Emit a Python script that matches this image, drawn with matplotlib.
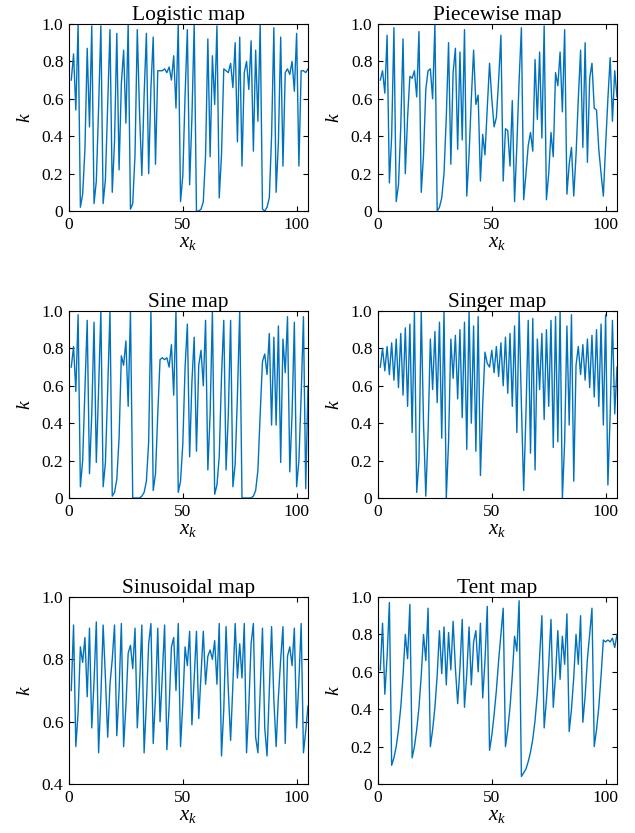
import numpy as np
import matplotlib
matplotlib.use("Agg")
import matplotlib.pyplot as plt

# values (one value per iteration, k = 1..105)
logistic = [
    0.70, 0.84, 0.54, 1.00, 0.02, 0.09, 0.33, 0.87, 0.45, 0.99,
    0.04, 0.16, 0.55, 0.99, 0.04, 0.17, 0.57, 0.97, 0.10, 0.37,
    0.95, 0.22, 0.68, 0.86, 0.47, 1.00, 0.01, 0.04, 0.30, 0.97,
    0.52, 0.19, 0.62, 0.95, 0.20, 0.66, 0.93, 0.25, 0.75, 0.75,
    0.75, 0.76, 0.74, 0.77, 0.70, 0.83, 0.55, 1.00, 0.05, 0.19,
    0.62, 0.97, 0.14, 0.50, 1.00, 0.00, 0.00, 0.01, 0.05, 0.30,
    0.92, 0.29, 0.83, 0.57, 0.99, 0.07, 0.30, 0.76, 0.75, 0.74,
    0.79, 0.66, 0.90, 0.37, 0.93, 0.24, 0.74, 0.80, 0.65, 0.91,
    0.32, 0.86, 0.48, 1.00, 0.01, 0.00, 0.02, 0.07, 0.40, 0.98,
    0.10, 0.37, 0.93, 0.24, 0.74, 0.76, 0.73, 0.80, 0.64, 0.95,
    0.24, 0.75, 0.75, 0.74, 0.76,
]
piecewise = [
    0.70, 0.75, 0.63, 0.94, 0.15, 0.40, 0.98, 0.05, 0.14, 0.45,
    0.92, 0.20, 0.50, 0.72, 0.71, 0.75, 0.61, 0.96, 0.10, 0.30,
    0.65, 0.75, 0.76, 0.60, 1.00, 0.00, 0.02, 0.07, 0.20, 0.50,
    0.90, 0.25, 0.74, 0.87, 0.33, 0.85, 0.38, 0.97, 0.08, 0.30,
    0.60, 0.86, 0.57, 0.62, 0.16, 0.41, 0.30, 0.55, 0.79, 0.60,
    0.45, 0.50, 0.70, 0.94, 0.16, 0.44, 0.43, 0.24, 0.59, 0.05,
    0.35, 0.70, 0.98, 0.06, 0.20, 0.35, 0.42, 0.32, 0.81, 0.49,
    0.85, 0.39, 0.99, 0.06, 0.20, 0.42, 0.29, 0.74, 0.67, 0.85,
    0.53, 0.97, 0.09, 0.25, 0.34, 0.08, 0.30, 0.60, 0.86, 0.34,
    0.90, 0.26, 0.71, 0.79, 0.55, 0.54, 0.33, 0.20, 0.08, 0.35,
    0.60, 0.82, 0.48, 0.75, 0.61,
]
sine = [
    0.70, 0.81, 0.57, 0.98, 0.06, 0.20, 0.58, 0.95, 0.13, 0.45,
    0.94, 0.19, 0.58, 1.00, 0.06, 0.19, 0.58, 1.00, 0.01, 0.03,
    0.10, 0.32, 0.76, 0.71, 0.84, 0.49, 1.00, 0.00, 0.00, 0.00,
    0.00, 0.01, 0.03, 0.09, 0.30, 1.00, 0.04, 0.13, 0.45, 0.74,
    0.75, 0.74, 0.75, 0.70, 0.82, 0.55, 1.00, 0.03, 0.09, 0.29,
    0.70, 0.93, 0.22, 0.62, 0.86, 0.25, 0.71, 0.79, 0.60, 0.95,
    0.15, 0.45, 1.00, 0.02, 0.07, 0.22, 0.65, 0.95, 0.15, 0.45,
    0.95, 0.06, 0.18, 0.55, 1.00, 0.00, 0.00, 0.00, 0.00, 0.00,
    0.01, 0.04, 0.15, 0.45, 0.73, 0.77, 0.66, 0.88, 0.39, 0.86,
    0.39, 0.92, 0.19, 0.85, 0.67, 0.97, 0.14, 0.45, 0.94, 0.06,
    0.20, 0.55, 0.97, 0.05, 0.60,
]
singer = [
    0.70, 0.80, 0.68, 0.81, 0.66, 0.83, 0.63, 0.85, 0.59, 0.88,
    0.55, 0.91, 0.49, 0.93, 0.35, 1.00, 0.03, 0.20, 1.00, 0.40,
    0.01, 0.35, 0.85, 0.58, 0.89, 0.51, 0.94, 0.32, 1.00, 0.00,
    0.30, 0.85, 0.64, 0.87, 0.53, 0.90, 0.43, 0.94, 0.26, 1.00,
    0.40, 0.92, 0.25, 0.97, 0.12, 0.50, 0.78, 0.72, 0.70, 0.79,
    0.67, 0.81, 0.65, 0.83, 0.60, 0.86, 0.56, 0.88, 0.49, 0.92,
    0.35, 1.00, 0.50, 0.04, 0.45, 0.95, 0.24, 0.96, 0.15, 0.85,
    0.58, 0.88, 0.42, 0.90, 0.49, 0.95, 0.27, 0.97, 0.30, 1.00,
    0.00, 0.30, 0.92, 0.39, 0.98, 0.09, 0.71, 0.81, 0.66, 0.82,
    0.63, 0.85, 0.59, 0.87, 0.54, 0.90, 0.49, 0.93, 0.39, 0.98,
    0.07, 0.45, 0.95, 0.45, 0.70,
]
sinusoidal = [
    0.70, 0.91, 0.52, 0.63, 0.84, 0.79, 0.87, 0.68, 0.90, 0.58,
    0.73, 0.92, 0.50, 0.68, 0.91, 0.74, 0.55, 0.72, 0.80, 0.91,
    0.555, 0.70, 0.915, 0.52, 0.65, 0.82, 0.845, 0.77, 0.90, 0.58,
    0.72, 0.91, 0.50, 0.66, 0.85, 0.915, 0.53, 0.68, 0.90, 0.60,
    0.75, 0.91, 0.51, 0.65, 0.84, 0.87, 0.70, 0.915, 0.52, 0.66,
    0.84, 0.78, 0.89, 0.59, 0.74, 0.89, 0.61, 0.75, 0.89, 0.72,
    0.81, 0.83, 0.80, 0.86, 0.72, 0.915, 0.49, 0.64, 0.905, 0.70,
    0.54, 0.72, 0.915, 0.74, 0.85, 0.74, 0.915, 0.50, 0.65, 0.85,
    0.915, 0.55, 0.50, 0.70, 0.90, 0.58, 0.49, 0.70, 0.905, 0.67,
    0.52, 0.68, 0.80, 0.905, 0.53, 0.81, 0.84, 0.78, 0.90, 0.58,
    0.73, 0.915, 0.50, 0.57, 0.65,
]
tent = [
    0.61, 0.86, 0.48, 0.68, 0.97, 0.10, 0.14, 0.20, 0.29, 0.41,
    0.58, 0.80, 0.67, 0.96, 0.14, 0.20, 0.29, 0.41, 0.58, 0.80,
    0.66, 0.94, 0.20, 0.29, 0.41, 0.58, 0.82, 0.59, 0.84, 0.53,
    0.81, 0.61, 0.87, 0.62, 0.43, 0.62, 0.88, 0.41, 0.59, 0.84,
    0.53, 0.76, 0.82, 0.60, 0.86, 0.46, 0.66, 0.95, 0.18, 0.26,
    0.37, 0.50, 0.66, 0.80, 0.94, 0.20, 0.29, 0.41, 0.58, 0.79,
    0.71, 0.98, 0.04, 0.06, 0.08, 0.12, 0.17, 0.24, 0.34, 0.48,
    0.68, 0.90, 0.30, 0.45, 0.64, 0.88, 0.41, 0.58, 0.82, 0.56,
    0.79, 0.64, 0.91, 0.28, 0.40, 0.57, 0.80, 0.64, 0.90, 0.33,
    0.47, 0.67, 0.80, 0.94, 0.20, 0.29, 0.41, 0.58, 0.77, 0.76,
    0.77, 0.76, 0.78, 0.73, 0.80,
]

titles = ["Logistic map", "Piecewise map", "Sine map",
          "Singer map", "Sinusoidal map", "Tent map"]
series = [logistic, piecewise, sine, singer, sinusoidal, tent]
y_ranges = [(0, 1), (0, 1), (0, 1), (0, 1), (0.4, 1.0), (0, 1)]
x_ticks = [0, 50, 100]

plt.rcParams["font.family"] = ["Liberation Serif", "DejaVu Serif"]
plt.rcParams["mathtext.fontset"] = "custom"
plt.rcParams["mathtext.rm"] = "Liberation Serif"
plt.rcParams["mathtext.it"] = "Liberation Serif:italic"
plt.rcParams["font.size"] = 12.5


def main():
    fig = plt.figure(figsize=(6.35, 8.33), dpi=100)

    # axes boxes in pixels (left, top) of the 635x833 canvas
    lefts = [69, 378]
    tops = [24, 311, 597]
    w_px, h_px = 239, 187

    for i, (title, vals, yr) in enumerate(zip(titles, series, y_ranges)):
        row, col = divmod(i, 2)
        rect = [lefts[col] / 635, 1 - (tops[row] + h_px) / 833,
                w_px / 635, h_px / 833]
        ax = fig.add_axes(rect)
        k = np.arange(1, len(vals) + 1)
        ax.plot(k, vals, color="#0072BD", linewidth=1.0)

        ax.set_xlim(0, 105)
        ax.set_ylim(*yr)
        ax.set_xticks(x_ticks)
        if yr[0] == 0:
            yt = [0, 0.2, 0.4, 0.6, 0.8, 1.0]
        else:
            yt = [0.4, 0.6, 0.8, 1.0]
        ax.set_yticks(yt)
        ax.set_yticklabels(["0" if t == 0 else f"{t:.1f}" for t in yt])

        ax.tick_params(direction="in", top=True, right=True, length=3.5,
                       width=0.8, pad=4)
        for s in ax.spines.values():
            s.set_linewidth(0.8)

        ax.set_title(title, pad=3, fontsize=15.5)
        ax.set_xlabel("$x_k$", labelpad=0, fontsize=15)
        ax.set_ylabel("k", fontstyle="italic", labelpad=6, fontsize=14)

    fig.savefig("out.png", dpi=100)
    plt.close(fig)


if __name__ == "__main__":
    main()
